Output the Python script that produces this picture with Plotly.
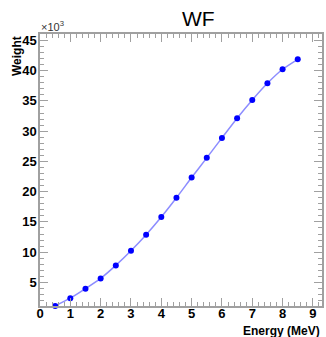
import plotly.graph_objects as go

energy = [0.5, 1.0, 1.5, 2.0, 2.5, 3.0, 3.5, 4.0, 4.5, 5.0, 5.5, 6.0, 6.5, 7.0, 7.5, 8.0, 8.5]
weight_k = [1.12, 2.39, 3.96, 5.66, 7.81, 10.23, 12.88, 15.8, 18.98, 22.33, 25.59, 28.89, 32.14, 35.16, 37.92, 40.23, 41.88]
x_ticks = [0, 1, 2, 3, 4, 5, 6, 7, 8, 9]
y_ticks = [5, 10, 15, 20, 25, 30, 35, 40, 45]

XR = [0, 9.3]
YR = [1.1, 46.06]
AX = "#a0a0a0"
FONT = "Liberation Sans, Arial, sans-serif"

fig = go.Figure()
fig.add_trace(go.Scatter(
    x=energy, y=weight_k, mode="lines+markers",
    line=dict(color="#8c8cff", width=1.5, shape="spline", smoothing=0.6),
    marker=dict(color="#0000ff", size=6),
    cliponaxis=False, showlegend=False,
))

common = dict(showgrid=False, zeroline=False, showline=True, linecolor=AX, linewidth=1.5,
              ticks="inside", tickcolor=AX, tickwidth=1, ticklen=8)
minor_common = dict(ticks="inside", ticklen=4, tickcolor=AX, tickwidth=1, showgrid=False)

fig.update_layout(
    width=326, height=337,
    margin=dict(l=40, r=4, t=34, b=31),
    paper_bgcolor="white", plot_bgcolor="white",
    font=dict(family=FONT, color="black"),
    xaxis=dict(range=XR, tickvals=x_ticks, ticktext=[str(v) for v in x_ticks],
               tickfont=dict(size=13, weight="bold", family=FONT), ticklabelstandoff=-5,
               minor=dict(dtick=0.2, tick0=0, **minor_common), **common),
    yaxis=dict(range=YR, tickvals=y_ticks, ticktext=[str(v) for v in y_ticks],
               tickfont=dict(size=13, weight="bold", family=FONT), ticklabelstandoff=-1,
               minor=dict(dtick=1, tick0=0, **minor_common), **common),
    xaxis2=dict(range=XR, overlaying="x", side="top", anchor="y", showticklabels=False,
                tickvals=x_ticks, minor=dict(dtick=0.2, tick0=0, **minor_common), **common),
    yaxis2=dict(range=YR, overlaying="y", side="right", anchor="x", showticklabels=False,
                tickvals=y_ticks, minor=dict(dtick=1, tick0=0, **minor_common), **common),
)
fig.add_trace(go.Scatter(x=[None], y=[None], xaxis="x2", yaxis="y2", showlegend=False, hoverinfo="skip"))

fig.add_annotation(text="WF", xref="paper", yref="paper", x=(198-40)/282, y=1, yshift=16,
                   showarrow=False, xanchor="center", yanchor="middle",
                   font=dict(size=21, family=FONT, color="black"))
fig.add_annotation(text="×10<sup>3</sup>", xref="paper", yref="paper", x=0, y=1,
                   xshift=-1, yshift=-1,
                   showarrow=False, xanchor="left", yanchor="bottom",
                   font=dict(size=11, family=FONT, color="#333333"))
fig.add_annotation(text="<b>Weight</b>", xref="paper", yref="paper", x=0, y=1,
                   xshift=-23, showarrow=False, textangle=-90, xanchor="center", yanchor="top",
                   font=dict(size=12, family=FONT, color="black"))
fig.add_annotation(text="<b>Energy (MeV)</b>", xref="paper", yref="paper", x=1, y=0,
                   yshift=-16, showarrow=False, xanchor="right", yanchor="top",
                   font=dict(size=12, family=FONT, color="black"))

fig.write_html("out.html")
